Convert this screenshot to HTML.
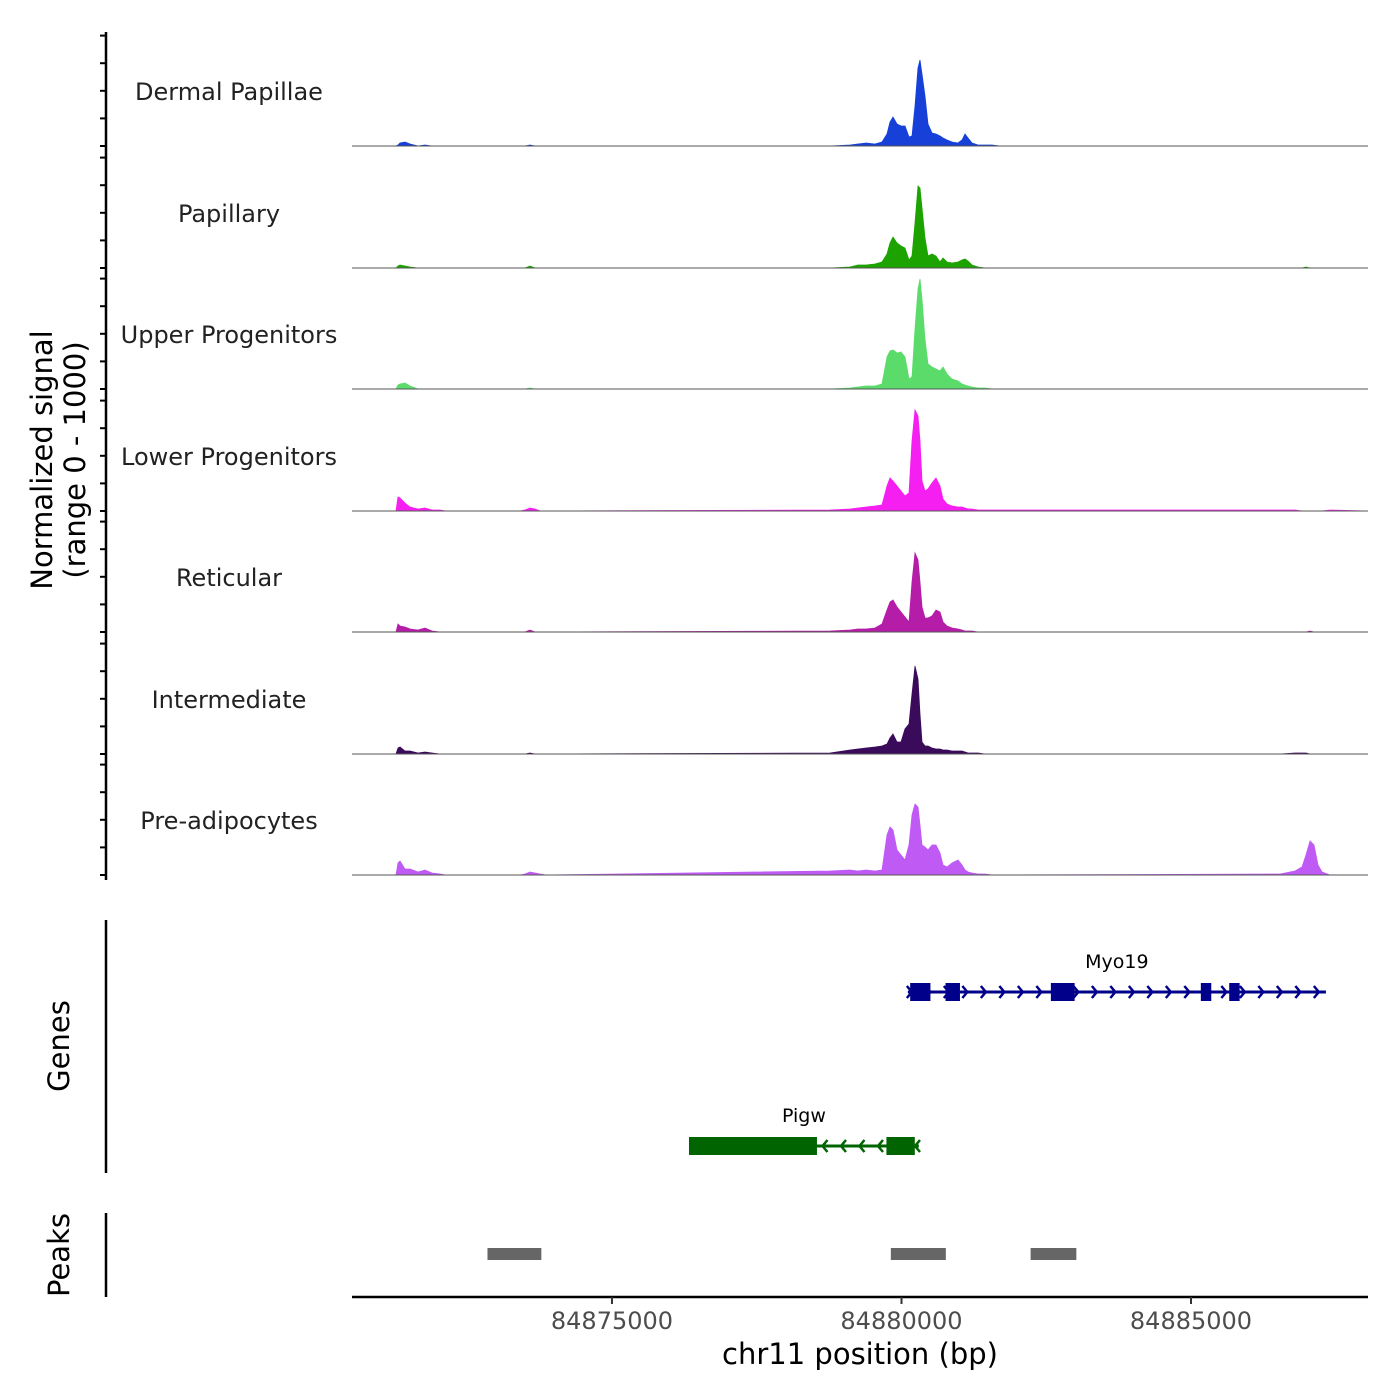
<!DOCTYPE html>
<html><head><meta charset="utf-8"><style>
html,body{margin:0;padding:0;background:#fff}
svg{display:block;font-family:"DejaVu Sans","Liberation Sans",sans-serif}
</style></head><body>
<svg id="chart" width="1400" height="1400" viewBox="0 0 1400 1400" xmlns="http://www.w3.org/2000/svg">
<rect width="1400" height="1400" fill="#fff"/>
<g id="tracks"></g>
<line x1="106" y1="32" x2="106" y2="880" stroke="#000" stroke-width="2.5"/>
<g id="yticks"></g>
<text transform="translate(52,460) rotate(-90)" text-anchor="middle" font-size="29" fill="#000">Normalized signal</text>
<text transform="translate(85,460) rotate(-90)" text-anchor="middle" font-size="29" fill="#000">(range 0 - 1000)</text>
<g id="genes"></g>
<line x1="106" y1="920" x2="106" y2="1173" stroke="#000" stroke-width="2.5"/>
<text transform="translate(69,1046) rotate(-90)" text-anchor="middle" font-size="29" fill="#000">Genes</text>
<g id="peaks"></g>
<line x1="106" y1="1213" x2="106" y2="1297" stroke="#000" stroke-width="2.5"/>
<text transform="translate(69,1255) rotate(-90)" text-anchor="middle" font-size="29" fill="#000">Peaks</text>
<line x1="352" y1="1297" x2="1368" y2="1297" stroke="#000" stroke-width="2.5"/>
<g id="xticks"></g>
<text x="860" y="1364" text-anchor="middle" font-size="29" fill="#000">chr11 position (bp)</text>
</svg>
<script>
const positions=[84870510,84871270,84871304,84871339,84871425,84871512,84871650,84871771,84871892,84872030,84872134,
84873412,84873498,84873584,84873670,84873757,84873860,
84878765,84879110,84879248,84879387,84879542,84879663,84879749,84879801,84879853,84879922,84879991,84880060,84880129,84880181,84880233,84880285,84880319,84880354,84880406,84880458,84880527,84880596,84880665,84880717,84880786,84880872,84880976,84881045,84881097,84881149,84881217,84881321,84881442,84881563,84881701,
84886537,84886796,84886917,84886986,84887055,84887124,84887193,84887262,84887401,84888057];
const trackNames=["Dermal Papillae","Papillary","Upper Progenitors","Lower Progenitors","Reticular","Intermediate","Pre-adipocytes"];
const trackColors=["#1740d8","#1ca300","#5bdc6a","#f41ff0","#b51da8","#3b0b5b","#c05af5"];
const sigDP=[0,0,1,3,4,2,0,1,0,0,0, 0,0,1,0,0,0, 0,1,2,3,2,4,12,24,29,22,20,20,9,10,40,78,86,72,50,22,13,12,10,8,6,4,3,6,12,8,3,1,1,1,0, 0,0,0,0,0,0,0,0,0,0];
const sigPap=[0,0,2,3,2,1,0,0,0,0,0, 0,0,2,0,0,0, 0,1,3,3,4,6,14,25,31,25,22,20,8,12,45,82,80,60,30,12,14,12,6,10,6,5,6,8,9,7,3,1,0,0,0, 0,0,0,1,0,0,0,0,0,0];
const sigUpper=[0,0,4,5,6,3,0,0,0,0,0, 0,0,1,0,0,0, 0,1,2,3,3,5,32,38,39,36,37,32,10,12,60,100,110,90,50,25,22,20,18,22,15,10,8,5,4,3,2,1,1,0,0, 0,0,0,0,0,0,0,0,0,0];
const sigLower=[0,0,14,13,8,4,2,3,1,1,0, 0,1,3,2,0,0, 1,2,3,4,5,6,25,33,30,25,20,15,18,70,101,95,70,30,20,22,28,33,25,12,7,5,4,4,3,2,2,1,1,1,1, 1,1,0,0,0,0,0,0,1,0];
const sigRet=[0,0,8,6,5,3,2,4,1,0,0, 0,0,2,0,0,0, 1,2,3,3,4,8,22,30,32,25,20,15,10,50,79,72,50,25,14,14,16,22,20,10,6,4,3,2,1,1,1,0,0,0,0, 0,0,0,0,1,0,0,0,0,0];
const sigInt=[0,0,6,7,3,3,1,2,1,0,0, 0,0,1,0,0,0, 1,4,5,6,7,8,10,16,20,12,12,25,30,60,88,75,40,12,8,8,6,5,5,4,4,3,3,3,2,1,1,1,0,0,0, 0,1,1,1,0,0,0,0,0,0];
const sigPre=[0,0,12,14,6,6,3,5,2,1,0, 0,1,3,2,1,0, 4,5,4,5,4,5,40,48,45,25,20,15,30,60,71,68,50,30,28,25,30,30,22,10,8,12,15,10,5,3,2,1,1,0,0, 1,4,8,20,34,30,10,3,0,0];
const signals=[sigDP,sigPap,sigUpper,sigLower,sigRet,sigInt,sigPre];
const xTicks=[84875000,84880000,84885000];
const geneNames=["Myo19","Pigw"];
const geneStarts=[84880110,84876330];
const geneEnds=[84887330,84880300];
const geneStrands=[1,-1];
const myo19Exons=[[84880150,84880500],[84880760,84881010],[84882580,84882990],[84885170,84885350],[84885660,84885840]];
const pigwExons=[[84876330,84878540],[84879740,84880230]];
const peakStarts=[84872850,84879816,84882230];
const peakEnds=[84873780,84880766,84883020];

const NS="http://www.w3.org/2000/svg";
const X0=352,X1=1368,B0=84870510,B1=84888057;
const xs=v=>X0+(v-B0)/(B1-B0)*(X1-X0);
const TH=110, YMAX=110;
const baselines=[146,268,389,511,632,754,875];
function mk(tag,attrs,parent){const e=document.createElementNS(NS,tag);for(const k in attrs)e.setAttribute(k,attrs[k]);parent.appendChild(e);return e;}
const tg=document.getElementById('tracks'), yt=document.getElementById('yticks');
signals.forEach((s,i)=>{
  const b=baselines[i];
  const ys=v=>b-v/YMAX*TH;
  let d="M"+xs(positions[0])+","+b;
  s.forEach((v,j)=>{d+=" L"+xs(positions[j]).toFixed(1)+","+ys(v).toFixed(1);});
  d+=" L"+xs(positions[positions.length-1])+","+b+" Z";
  const p=mk('path',{d:d,fill:trackColors[i],stroke:trackColors[i],'stroke-width':0.8},tg);
  
  
  const l=mk('line',{x1:X0,x2:X1,y1:b,y2:b,stroke:'#555','stroke-width':1},tg);
  
  
  const t=mk('text',{x:229,y:b-46,'text-anchor':'middle','font-size':24,fill:'#222'},tg);
  t.textContent=trackNames[i];
  
  
  for(let k=0;k<5;k++){const y=b-k*27.6;
    const tk=mk('line',{x1:100,x2:106,y1:y,y2:y,stroke:'#000','stroke-width':2},yt);
    
    }
});
const xt=document.getElementById('xticks');
xTicks.forEach(v=>{
  const x=xs(v);
  const l=mk('line',{x1:x,x2:x,y1:1297,y2:1304,stroke:'#333','stroke-width':2},xt);
  
  
  const t=mk('text',{x:x,y:1329,'text-anchor':'middle','font-size':24,fill:'#4d4d4d'},xt);
  t.textContent=v;
  
  
});
const gg=document.getElementById('genes');
const geneY=[992,1146], geneCol=["#00008b","#006400"], exonSets=[myo19Exons,pigwExons];
geneNames.forEach((n,i)=>{
  const y=geneY[i],c=geneCol[i],x1=xs(geneStarts[i]),x2=xs(geneEnds[i]);
  const l=mk('line',{x1:x1,x2:x2,y1:y,y2:y,stroke:c,'stroke-width':3},gg);
  
  
  for(let x=x1+4;x<=x2;x+=18.5){
    const dx=geneStrands[i]*5;
    const a=mk('polyline',{points:(x-dx)+","+(y-6)+" "+x+","+y+" "+(x-dx)+","+(y+6),fill:'none',stroke:c,'stroke-width':2.5},gg);
    
    
  }
  exonSets[i].forEach(e=>{
    const r=mk('rect',{x:xs(e[0]),y:y-9,width:xs(e[1])-xs(e[0]),height:18,fill:c},gg);
    
    
  });
  const t=mk('text',{x:(x1+x2)/2,y:y-24,'text-anchor':'middle','font-size':19,fill:'#000'},gg);
  t.textContent=n;
  
  
});
const pg=document.getElementById('peaks');
peakStarts.forEach((s,i)=>{
  const r=mk('rect',{x:xs(s),y:1248,width:xs(peakEnds[i])-xs(s),height:12,fill:'#666'},pg);
  
  
});
</script>
</body></html>
